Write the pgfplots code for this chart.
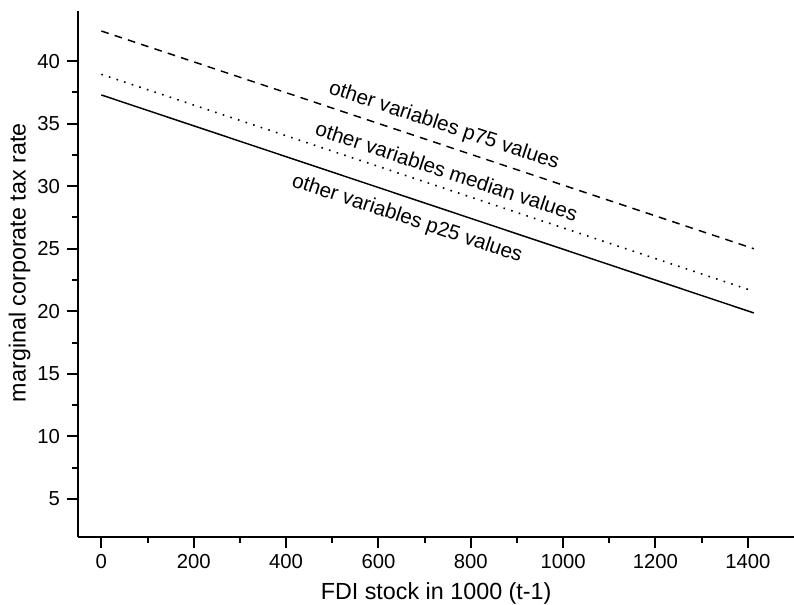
\documentclass[border=0pt]{standalone}
\usepackage{pgfplots}
\pgfplotsset{compat=1.18}
\usepackage{fontspec}
\setmainfont{Liberation Sans}

\pgfplotstableread{
x y
0 42.40
1413 25.00
}\pfivetyfive
\pgfplotstableread{
x y
0 38.94
1413 21.60
}\pmedian
\pgfplotstableread{
x y
0 37.29
1413 19.87
}\ptwentyfive

\begin{document}
\fontsize{15}{18}\selectfont
\begin{tikzpicture}
\begin{axis}[
    scale only axis,
    width=537pt, height=394.3pt,
    xmin=-50, xmax=1500,
    ymin=2, ymax=44,
    axis x line*=bottom,
    axis y line*=left,
    axis line style={-, line width=1.5pt},
    xtick={0,200,...,1400},
    ytick={5,10,...,40},
    minor x tick num=1,
    minor y tick num=1,
    tick align=outside,
    major tick length=8.5pt,
    minor tick length=5pt,
    tick style={black, line width=1.5pt},
    /pgf/number format/assume math mode=true,
    /pgf/number format/1000 sep={},
    tick label style={font=\fontsize{15.2}{18}\selectfont},
    label style={font=\fontsize{17.5}{21}\selectfont},
    ylabel style={at={(ticklabel cs:0.521)}},
    ylabel shift=-5pt,
    xlabel={FDI stock in 1000 (t-1)},
    ylabel={marginal corporate tax rate},
    clip=false,
]
\addplot[black, line width=1.1pt, dash pattern=on 5.8pt off 4.7pt] table {\pfivetyfive};
\addplot[black, line width=1.2pt, dash pattern=on 1.2pt off 4.8pt] table {\pmedian};
\addplot[black, line width=1.1pt] table {\ptwentyfive};
\begin{scope}[every node/.style={rotate=-18.4, font=\fontsize{15.5}{18}\selectfont}]
\node at (axis cs:742,34.8) {other variables p75 values};
\node at (axis cs:748,31.2) {other variables median values};
\node at (axis cs:662,27.37) {other variables p25 values};
\end{scope}
\end{axis}
\pgfresetboundingbox
\path ([shift={(-58.7pt,-51.2pt)}]current axis.south west) rectangle ([shift={(0pt,8.25pt)}]current axis.north east);
\end{tikzpicture}
\end{document}
